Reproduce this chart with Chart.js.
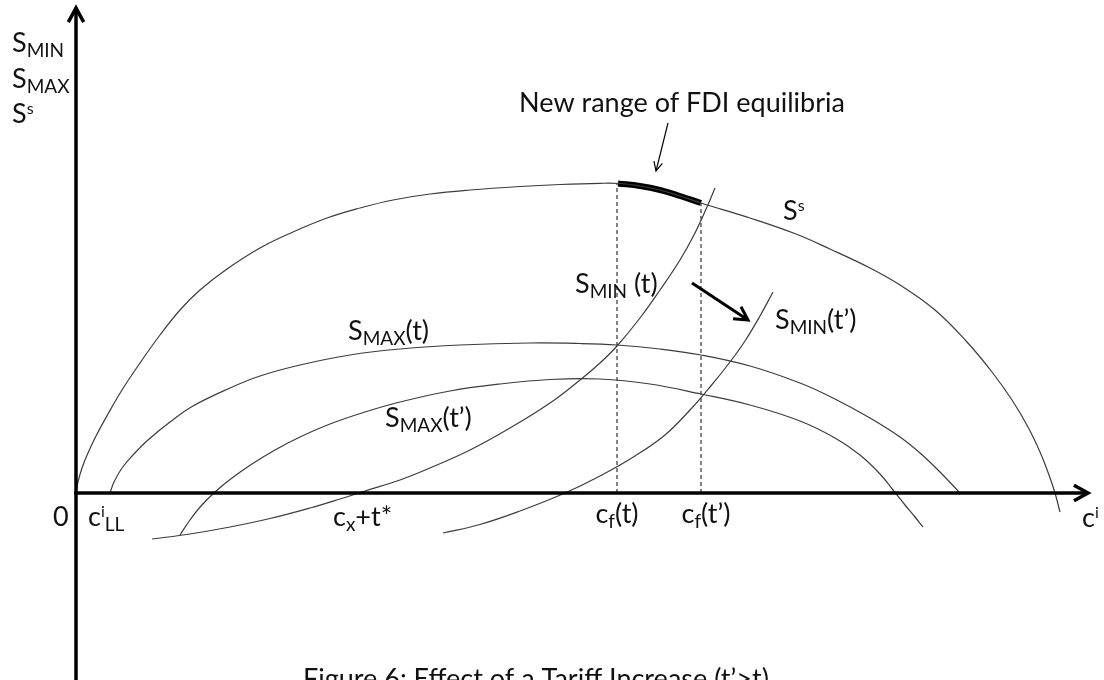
<!DOCTYPE html>
<html>
<head>
<meta charset="utf-8">
<script src="https://cdn.jsdelivr.net/npm/chart.js@4.4.1/dist/chart.umd.min.js"></script>
<style>
body { margin: 0; background: #fff; }
#grafico { display: block; }
</style>
</head>
<body>
<canvas id="grafico" width="1104" height="680"></canvas>
<script>
// curvas no plano (c, S)
const curvaSs = [[0,0],[0.2,1.1],[0.6,2.5],[1.2,4.0],[2.0,5.7],[3.2,7.9],[4.6,10.3],[6.4,13.0],[8.4,15.8],[10.4,18.3],[12.4,20.3],[15.1,22.4],[18.4,24.5],[21.7,26.1],[25.1,27.5],[28.4,28.5],[31.7,29.3],[35.4,29.9],[39.4,30.3],[44.4,30.65],[48.4,30.85],[52.4,30.97],[54.4,30.95],[56.4,30.7],[58.4,30.3],[60.4,29.7],[62.5,29.0],[67.4,27.5],[72.0,25.9],[75.4,24.4],[79.4,22.5],[82.4,20.8],[85.9,18.3],[89.1,15.1],[91.6,12.1],[93.6,9.3],[95.2,6.6],[96.4,4.1],[97.3,1.8],[97.9,0],[98.4,-1.9]];
const curvaSmaxT = [[3.4,0],[3.8,1.1],[4.6,2.5],[5.7,3.8],[7.2,5.3],[9.4,7.1],[11.7,8.7],[15.4,10.5],[18.4,11.7],[22.4,12.8],[27.4,13.8],[32.4,14.4],[38.4,14.8],[45.4,15.0],[50.4,14.95],[54.1,14.8],[58.4,14.4],[62.5,13.8],[67.4,12.7],[72.4,11.0],[75.7,9.5],[79.4,7.5],[82.4,5.6],[84.4,4.0],[86.4,2.1],[88.4,0]];
const curvaSmaxT2 = [[10.4,-4.2],[11.4,-2.7],[12.5,-1.3],[13.9,0.1],[15.6,1.5],[17.6,2.9],[19.9,4.3],[22.4,5.6],[25.4,6.9],[28.9,8.1],[32.4,9.1],[37.4,10.2],[42.4,10.9],[47.4,11.35],[52.4,11.4],[57.4,10.9],[62.5,9.9],[67.4,8.8],[72.4,7.2],[75.9,5.5],[78.4,3.8],[80.4,1.9],[81.7,0.3],[82.9,-1.2],[83.9,-2.4],[84.7,-3.4]];
const curvaSminT = [[7.6,-4.6],[11.4,-4.1],[15.4,-3.4],[19.4,-2.55],[23.4,-1.5],[26.4,-0.6],[28.9,0.2],[32.4,1.3],[35.4,2.5],[39.4,4.3],[43.4,6.5],[47.4,9.0],[50.4,11.3],[52.4,13.0],[54.1,14.7],[56.4,17.5],[58.4,20.3],[60.4,23.3],[61.9,26.0],[63.1,28.6],[63.9,30.5]];
const curvaSminT2 = [[36.7,-4.0],[40.4,-3.15],[44.4,-1.8],[48.9,0],[52.4,1.7],[55.9,3.7],[58.9,5.8],[61.4,8.3],[63.4,10.6],[65.4,13.1],[66.9,15.2],[68.4,17.7],[69.7,20.1]];
// trecho das novas FDI equilibria sobre S^s
const trechoEquilibrio = [[54.2,30.95],[56.4,30.7],[58.4,30.3],[60.4,29.7],[62.5,29.0]];
// c_f(t) e c_f(t')
const tracejadoCfT = [[54.1,0],[54.1,31.0]];
const tracejadoCfT2 = [[62.5,0],[62.5,29.0]];
// setas: deslocamento de S_MIN e indicação do trecho
const setaDeslocamento = [[61.6,21.0],[67.2,17.3]];
const setaTrecho = [[59.2,37.0],[58.0,32.2]];

const limitesC = [-7.6, 102.8];
const limitesS = [-18.7, 49.3];

const rotuloEixoY = [[['S','n'],['MIN','sub']], [['S','n'],['MAX','sub']], [['S','n'],['s','sup']]];
const rotuloSs = [['S','n'],['s','sup']];
const rotuloSminT = [['S','n'],['MIN','sub'],[' (t)','n']];
const rotuloSminT2 = [['S','n'],['MIN','sub'],['(t’)','n']];
const rotuloSmaxT = [['S','n'],['MAX','sub'],['(t)','n']];
const rotuloSmaxT2 = [['S','n'],['MAX','sub'],['(t’)','n']];
const rotuloCiLL = [['c','n'],['i','sup'],['LL','sub']];
const rotuloCx = [['c','n'],['x','sub'],['+t*','n']];
const rotuloCfT = [['c','n'],['f','sub'],['(t)','n']];
const rotuloCfT2 = [['c','n'],['f','sub'],['(t’)','n']];
const rotuloCi = [['c','n'],['i','sup']];
const textoTrecho = 'New range of FDI equilibria';
const textoFigura = 'Figure 6: Effect of a Tariff Increase (t’>t)';

const FONTE = 'Lato, "Open Sans", sans-serif';

function pontos(lista) {
    return lista.map(p => ({ x: p[0], y: p[1] }));
}

function curva(lista, extra) {
    return Object.assign({
        data: pontos(lista),
        showLine: true,
        borderColor: '#3c3c3c',
        borderWidth: 1.2,
        pointRadius: 0,
        tension: 0.4,
        fill: false
    }, extra || {});
}

function escreverRico(ctx, x, y, partes, alinhamento) {
    const fontes = { n: '27px ' + FONTE, sub: '19px ' + FONTE, sup: '16px ' + FONTE };
    const desloc = { n: 0, sub: 5, sup: -9 };
    let largura = 0;
    partes.forEach(([t, k]) => { ctx.font = fontes[k]; largura += ctx.measureText(t).width; });
    let cx = alinhamento === 'center' ? x - largura / 2 : x;
    partes.forEach(([t, k]) => {
        ctx.font = fontes[k];
        ctx.fillText(t, cx, y + desloc[k]);
        cx += ctx.measureText(t).width;
    });
}

function seta(ctx, x1, y1, x2, y2, tam, abertura) {
    const ang = Math.atan2(y2 - y1, x2 - x1);
    ctx.beginPath();
    ctx.moveTo(x1, y1);
    ctx.lineTo(x2, y2);
    ctx.stroke();
    ctx.beginPath();
    ctx.moveTo(x2 - tam * Math.cos(ang - abertura), y2 - tam * Math.sin(ang - abertura));
    ctx.lineTo(x2, y2);
    ctx.lineTo(x2 - tam * Math.cos(ang + abertura), y2 - tam * Math.sin(ang + abertura));
    ctx.stroke();
}

const desenhoEixos = {
    id: 'desenhoEixos',
    afterDatasetsDraw(chart) {
        const ctx = chart.ctx;
        const px = v => chart.scales.x.getPixelForValue(v);
        const py = v => chart.scales.y.getPixelForValue(v);
        ctx.save();
        ctx.strokeStyle = '#000';
        ctx.lineCap = 'butt';
        ctx.lineJoin = 'miter';

        // eixos com ponta de seta aberta
        ctx.lineWidth = 3.5;
        seta(ctx, px(0), py(limitesS[0]), px(0), py(48.5), 16, 0.5);
        seta(ctx, px(-0.2), py(0), px(101.2), py(0), 16, 0.5);

        // setas do diagrama
        ctx.lineWidth = 3;
        seta(ctx, px(setaDeslocamento[0][0]), py(setaDeslocamento[0][1]), px(setaDeslocamento[1][0]), py(setaDeslocamento[1][1]), 15, 0.5);
        ctx.lineWidth = 1.2;
        seta(ctx, px(setaTrecho[0][0]), py(setaTrecho[0][1]), px(setaTrecho[1][0]), py(setaTrecho[1][1]), 10, 0.45);

        ctx.fillStyle = '#111';
        ctx.textBaseline = 'alphabetic';
        ctx.textAlign = 'left';

        // rótulos do eixo vertical
        escreverRico(ctx, px(-6.4), py(44.1), rotuloEixoY[0]);
        escreverRico(ctx, px(-6.4), py(40.5), rotuloEixoY[1]);
        escreverRico(ctx, px(-6.4), py(37.0), rotuloEixoY[2]);

        // rótulos das curvas
        escreverRico(ctx, px(70.7), py(27.3), rotuloSs);
        escreverRico(ctx, px(49.9), py(20.0), rotuloSminT);
        escreverRico(ctx, px(69.9), py(16.4), rotuloSminT2);
        escreverRico(ctx, px(27.2), py(15.3), rotuloSmaxT);
        escreverRico(ctx, px(30.9), py(6.6), rotuloSmaxT2);

        // rótulos do eixo horizontal
        escreverRico(ctx, px(-2.3), py(-3.3), [['0', 'n']]);
        escreverRico(ctx, px(1.2), py(-3.3), rotuloCiLL);
        escreverRico(ctx, px(25.7), py(-3.3), rotuloCx);
        escreverRico(ctx, px(54.1), py(-3.0), rotuloCfT, 'center');
        escreverRico(ctx, px(63.0), py(-3.0), rotuloCfT2, 'center');
        escreverRico(ctx, px(100.6), py(-3.4), rotuloCi);

        escreverRico(ctx, px(60.6), py(38.1), [[textoTrecho, 'n']], 'center');
        escreverRico(ctx, px(22.7), py(-19.5), [[textoFigura, 'n']]);
        ctx.restore();
    }
};

new Chart(document.getElementById('grafico'), {
    type: 'scatter',
    data: {
        datasets: [
            curva(curvaSs),
            curva(curvaSmaxT),
            curva(curvaSmaxT2),
            curva(curvaSminT),
            curva(curvaSminT2),
            curva(tracejadoCfT, { borderDash: [4, 3], tension: 0, borderColor: '#333' }),
            curva(tracejadoCfT2, { borderDash: [4, 3], tension: 0, borderColor: '#333' }),
            curva(trechoEquilibrio, { borderWidth: 6, borderColor: '#000', borderCapStyle: 'butt' })
        ]
    },
    options: {
        responsive: false,
        animation: false,
        devicePixelRatio: 1,
        events: [],
        layout: { padding: 0 },
        plugins: { legend: { display: false }, tooltip: { enabled: false } },
        scales: {
            x: { type: 'linear', min: limitesC[0], max: limitesC[1], display: false },
            y: { type: 'linear', min: limitesS[0], max: limitesS[1], display: false }
        }
    },
    plugins: [desenhoEixos]
});
</script>
</body>
</html>
